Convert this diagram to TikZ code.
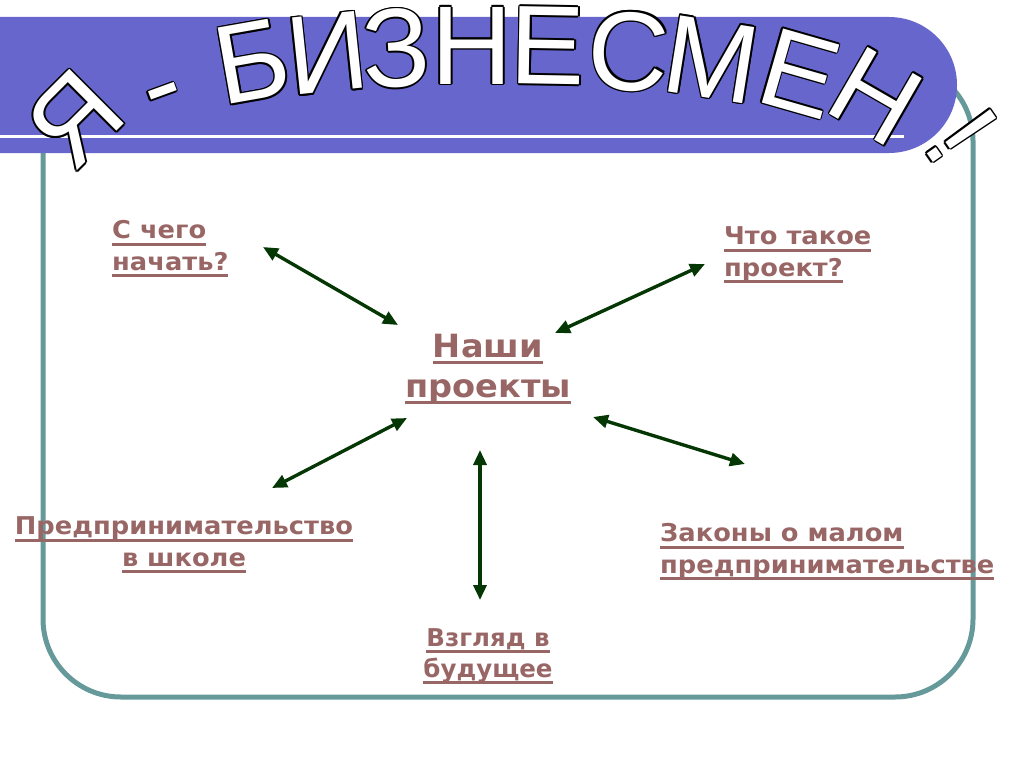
\documentclass[tikz,border=0pt]{standalone}
\usepackage{fontspec}
\setmainfont{DejaVu Sans}
\newfontfamily\titlefont{Liberation Sans}
\newfontfamily\lblfont[FakeStretch=1.05]{DejaVu Sans Bold}
\newfontfamily\narrowlbl{DejaVu Sans Bold}
\usetikzlibrary{arrows.meta}
\definecolor{bandblue}{RGB}{102,102,204}
\definecolor{frameteal}{RGB}{102,153,153}
\definecolor{labelc}{RGB}{153,102,102}
\definecolor{arrowc}{RGB}{5,55,5}
\newsavebox\ulbox
\newcommand\ulx[1]{\sbox\ulbox{#1}\rlap{\smash{\rule[-7pt]{\wd\ulbox}{2.6pt}}}\usebox\ulbox}
\newcommand\oc[3]{\rlap{\hspace*{#1}\raisebox{#2}{\color{black}#3}}}
\newcommand\outl[1]{\oc{1.7pt}{0pt}{#1}\oc{-1.7pt}{0pt}{#1}\oc{0pt}{1.7pt}{#1}\oc{0pt}{-1.7pt}{#1}%
  \oc{1.2pt}{1.2pt}{#1}\oc{-1.2pt}{1.2pt}{#1}\oc{1.2pt}{-1.2pt}{#1}\oc{-1.2pt}{-1.2pt}{#1}#1}
\begin{document}
\begin{tikzpicture}[x=1pt,y=-1pt,
  lbl/.style={text=labelc, font=\lblfont\fontsize{24.5}{31.5}\selectfont, inner sep=0pt},
  big/.style={text=labelc, font=\lblfont\fontsize{32}{40}\selectfont, inner sep=0pt},
  ttl/.style={inner sep=0pt, text=white, text height=80pt, text depth=0pt,
    font=\titlefont\fontsize{112}{112}\selectfont},
  arr/.style={draw=arrowc, line width=3.4pt, >={Triangle[length=15pt,width=13pt]}, <->}]
\useasboundingbox (0,0) rectangle (1024,768);
% frame
\draw[frameteal, line width=5pt, rounded corners=78pt] (43,63) rectangle (973,697);
% band
\fill[bandblue] (0,17) -- (889,17) arc (-90:90:68) -- (0,153) -- cycle;
\draw[white, line width=3pt] (0,136) -- (904,136);
% title letters
\node[ttl, rotate=45] (t1) at (74,118) {\outl{Я}};
\node[ttl, rotate=20] (t2) at (159,82) {\outl{-}};
\node[ttl, rotate=10] (t3) at (252,60) {\outl{Б}};
\node[ttl, rotate=6] (t4) at (327,52) {\outl{И}};
\node[ttl, rotate=3] (t5) at (396,47) {\outl{З}};
\node[ttl, rotate=0] (t6) at (472,44) {\outl{Н}};
\node[ttl, rotate=-1] (t7) at (548,44) {\outl{Е}};
\node[ttl, rotate=-4] (t8) at (629,50) {\outl{С}};
\node[ttl, rotate=-9] (t9) at (712,58) {\outl{М}};
\node[ttl, rotate=-16] (t10) at (800,72) {\outl{Е}};
\node[ttl, rotate=-30] (t11) at (877,95) {\outl{Н}};
\node[ttl, rotate=-55] (t12) at (963,135) {\outl{!}};
% labels
\node[lbl, align=left, anchor=base west] (c1) at (112,270) {\ulx{С чего}\\\ulx{начать?}};
\node[lbl, align=left, anchor=base west] (c2) at (724,276) {\ulx{Что такое}\\\ulx{проект?}};
\node[big, align=center, anchor=base] (ctr) at (488,397) {\ulx{Наши}\\\ulx{проекты}};
\node[lbl, align=center, anchor=base] (c3) at (184,566) {\ulx{Предпринимательство}\\\ulx{в школе}};
\node[lbl, align=left, anchor=base west] (c4) at (660,573) {\ulx{Законы о малом}\\\ulx{предпринимательстве}};
\node[lbl, align=center, anchor=base, font=\narrowlbl\fontsize{24.5}{31}\selectfont] (c5) at (488,677) {\ulx{Взгляд в}\\\ulx{будущее}};
% arrows
\coordinate (a1s) at (263,247); \coordinate (a1e) at (398,325);
\coordinate (a2s) at (555,333); \coordinate (a2e) at (705,264);
\coordinate (a3s) at (272,488); \coordinate (a3e) at (407,418);
\coordinate (a4s) at (480,450); \coordinate (a4e) at (480,600);
\coordinate (a5s) at (593,417); \coordinate (a5e) at (745,464);
\draw[arr] (a1s) -- (a1e);
\draw[arr] (a2s) -- (a2e);
\draw[arr] (a3s) -- (a3e);
\draw[arr] (a4s) -- (a4e);
\draw[arr] (a5s) -- (a5e);
\end{tikzpicture}
\end{document}
